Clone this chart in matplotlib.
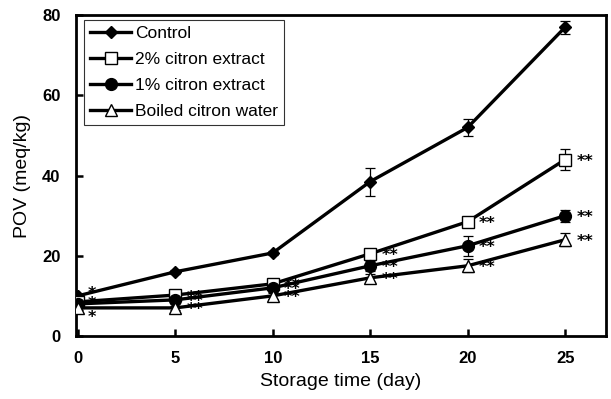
import matplotlib
matplotlib.use("Agg")
import matplotlib.pyplot as plt

days = [0, 5, 10, 15, 20, 25]
series_names = ["Control", "2% citron extract", "1% citron extract", "Boiled citron water"]
control = [10.0, 16.0, 20.7, 38.5, 52.0, 77.0]
control_err = [0.5, 0.5, 0.6, 3.5, 2.2, 1.6]
citron2 = [8.5, 10.2, 13.0, 20.5, 28.5, 44.0]
citron2_err = [0.5, 0.6, 0.7, 1.0, 1.0, 2.6]
citron1 = [8.0, 9.0, 12.0, 17.5, 22.5, 30.0]
citron1_err = [0.5, 0.5, 0.5, 1.2, 2.5, 1.5]
boiled = [7.0, 7.0, 10.0, 14.5, 17.5, 24.0]
boiled_err = [0.5, 0.5, 0.8, 1.0, 1.6, 1.6]
sig2 = ["*", "**", "**", "**", "**", "**"]
sig1 = ["*", "**", "**", "**", "**", "**"]
sigb = ["*", "**", "**", "**", "**", "**"]

plt.rcParams['font.family'] = ['Liberation Sans', 'DejaVu Sans']
fig = plt.figure(figsize=(6.11, 3.99), dpi=100)
ax = fig.add_axes([0.124, 0.158, 0.868, 0.804])

lw = 2.4
styles = [
    dict(marker='D', ms=6.5, mfc='black', mec='black'),
    dict(marker='s', ms=8, mfc='white', mec='black', mew=1.0),
    dict(marker='o', ms=8.5, mfc='black', mec='black'),
    dict(marker='^', ms=9, mfc='white', mec='black', mew=1.0),
]
data = [(control, control_err), (citron2, citron2_err), (citron1, citron1_err), (boiled, boiled_err)]
for (vals, errs), st, name in zip(data, styles, series_names):
    ax.errorbar(days, vals, yerr=errs, fmt='none', ecolor='black', capsize=3.5,
                elinewidth=0.9, capthick=0.9, zorder=2)
    ax.plot(days, vals, color='black', lw=lw, label=name, zorder=3, **st)

# significance markers
offsets_day0 = [(7, 6), (7, 0), (7, -7)]
for k, (vals, sig) in enumerate([(citron2, sig2), (citron1, sig1), (boiled, sigb)]):
    for i, (d, v, s) in enumerate(zip(days, vals, sig)):
        if i == 0:
            off = offsets_day0[k]
        else:
            off = (8, -1.5)
        ax.annotate(s, (d, v), xytext=off, textcoords='offset points',
                    ha='left', va='center', fontsize=11.5, fontweight='bold',
                    family='DejaVu Sans')

ax.set_xlim(-0.1, 27.1)
ax.set_ylim(0, 80)
ax.set_xticks(days)
ax.set_yticks([0, 20, 40, 60, 80])
ax.tick_params(direction='in', length=5, width=1.8, labelsize=12, pad=11)
for lab in ax.get_xticklabels() + ax.get_yticklabels():
    lab.set_fontweight('bold')
for sp in ax.spines.values():
    sp.set_linewidth(2.0)

ax.set_xlabel("Storage time (day)", fontsize=14, labelpad=5)
ax.set_ylabel("POV (meq/kg)", fontsize=14, labelpad=8)

leg = ax.legend(loc='upper left', bbox_to_anchor=(0.015, 0.985), frameon=True,
                fancybox=False, edgecolor='black', fontsize=12.5, handlelength=2.4,
                handletextpad=0.2, borderpad=0.35, labelspacing=0.62, borderaxespad=0)
leg.get_frame().set_linewidth(0.8)

fig.savefig("out.png", dpi=100)
